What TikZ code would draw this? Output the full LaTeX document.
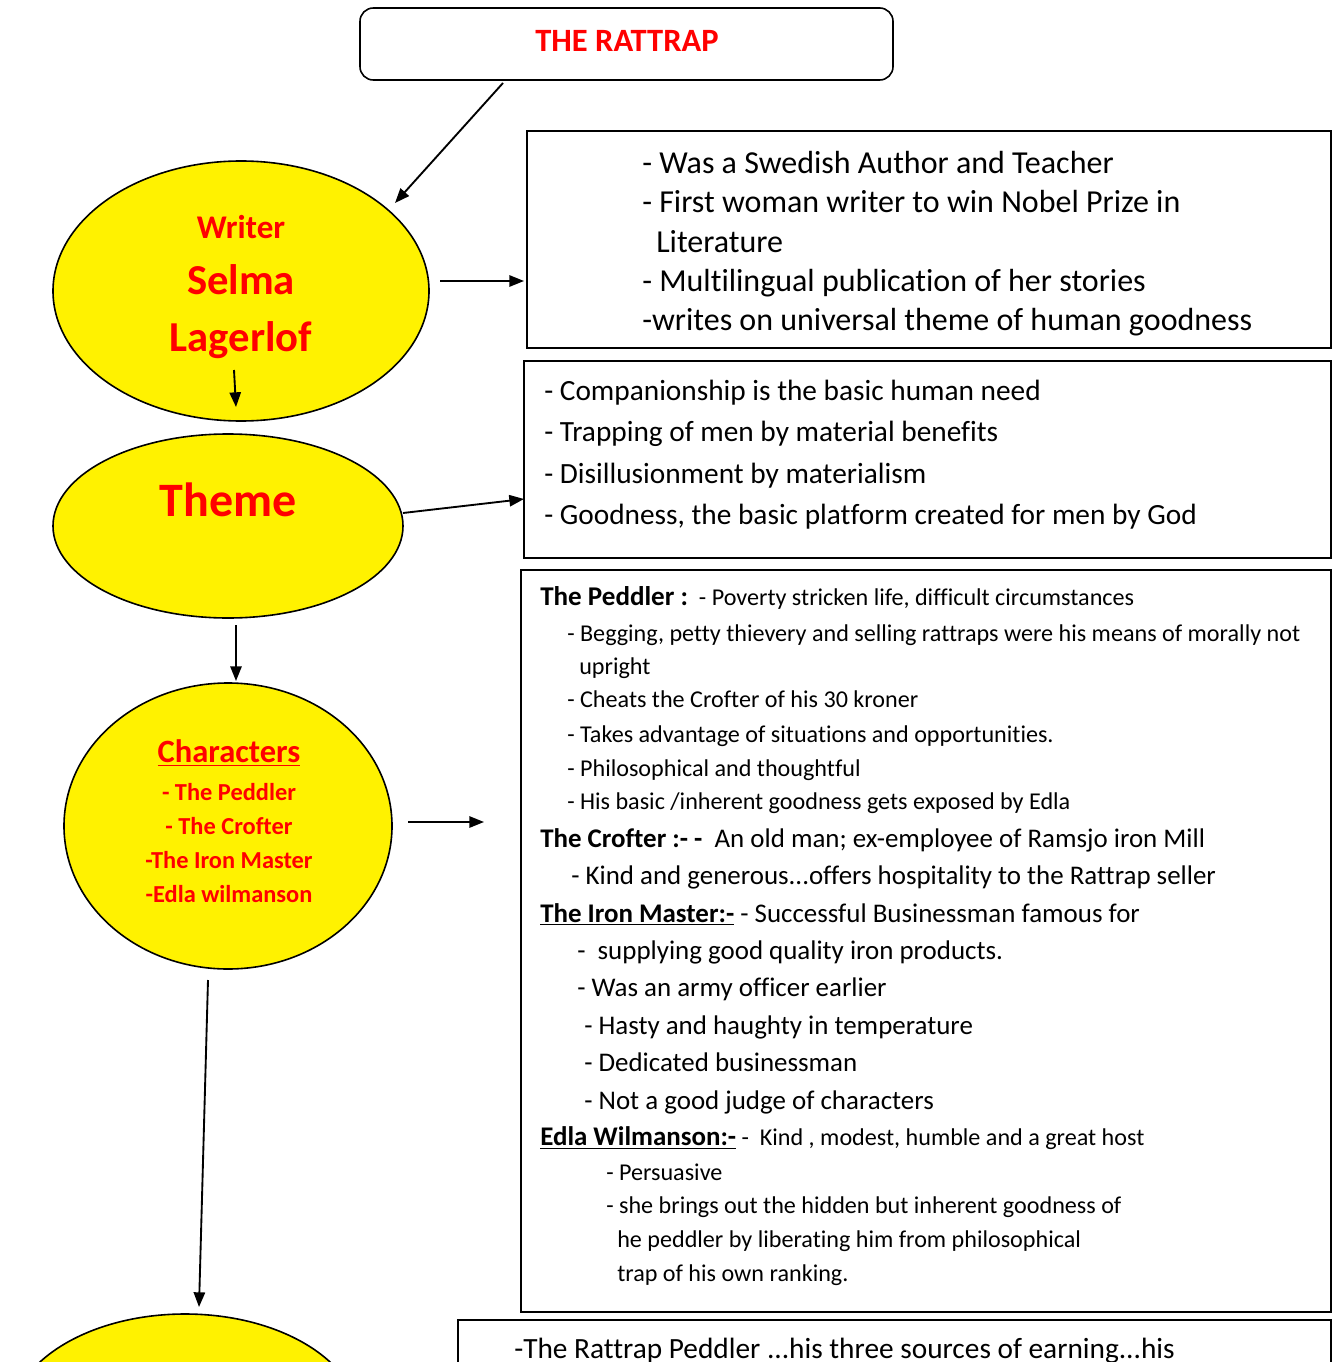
\documentclass[tikz,border=0pt]{standalone}
\usepackage{fontspec}
\setmainfont{Carlito}[Ligatures={NoCommon}]
\usepackage{tikz}
\usetikzlibrary{arrows.meta}

\tikzset{
  bubble/.style={draw, fill=yellow, line width=1.2pt},
  infobox/.style={draw, line width=1.5pt},
  arr/.style={-{Triangle[length=11pt,width=8.5pt]}, line width=1.4pt},
  redtxt/.style={text=red, font=\bfseries, inner sep=0.75pt},
  boxline/.style={anchor=mid west, inner sep=0.75pt, yshift=-3.5pt},
  topline/.style={boxline, yshift=-2.5pt, font=\fontsize{24}{28}\selectfont},
  bigline/.style={boxline, yshift=-2pt, font=\fontsize{22}{26}\selectfont},
  midline/.style={boxline, yshift=-1pt, font=\fontsize{20.2}{24}\selectfont},
  smallline/.style={boxline, font=\fontsize{18.1}{22}\selectfont}
}

\begin{document}
\begin{tikzpicture}[x=0.75pt,y=0.75pt,yscale=-1,xscale=1]
\useasboundingbox (0,0) rectangle (1335,1362);

% title
\draw [line width=1.2pt, rounded corners=10pt] (360,8) rectangle (893,80);
\node (title) [redtxt, font=\bfseries\fontsize{24.4}{28}\selectfont] at (627,41) {THE RATTRAP};

% bubbles
\draw [bubble] (241,291) ellipse [x radius=188, y radius=130];
\draw [bubble] (228,526) ellipse [x radius=175, y radius=92];
\draw [bubble] (228,826) ellipse [x radius=164, y radius=143];
\draw [bubble] (185,1423) ellipse [x radius=175, y radius=109];

\node (writer) [redtxt, font=\bfseries\fontsize{24.8}{28}\selectfont] at (241,227) {Writer};
\node (selma) [redtxt, font=\bfseries\fontsize{32}{36}\selectfont] at (241,280) {Selma};
\node (lagerlof) [redtxt, font=\bfseries\fontsize{32}{36}\selectfont] at (241,340) {Lagerlof};
\node (theme) [redtxt, font=\bfseries\fontsize{36}{42}\selectfont] at (228,500) {Theme};
\node (chars) [redtxt, font=\bfseries\fontsize{24.4}{28}\selectfont] at (229,753) {\underline{Characters}};
\node (cpeddler) [redtxt, font=\bfseries\fontsize{18.3}{22}\selectfont] at (229,792) {- The Peddler};
\node (ccrofter) [redtxt, font=\bfseries\fontsize{18.3}{22}\selectfont] at (229,826) {- The Crofter};
\node (cmaster) [redtxt, font=\bfseries\fontsize{18.3}{22}\selectfont] at (229,860) {-The Iron Master};
\node (cedla) [redtxt, font=\bfseries\fontsize{18.3}{22}\selectfont] at (229,894) {-Edla wilmanson};

% boxes
\draw [infobox] (527,131) rectangle (1331,348);
\draw [infobox] (524,361) rectangle (1331,558);
\draw [infobox] (521,570) rectangle (1331,1312);
\draw [infobox] (458,1320) rectangle (1331,1400);

% box 1: writer
\node (w1) [topline] at (641,162) {- Was a Swedish Author and Teacher};
\node (w2) [topline] at (641,201) {- First woman writer to win Nobel Prize in};
\node (w3) [topline] at (655,241) {Literature};
\node (w4) [topline] at (641,280) {- Multilingual publication of her stories};
\node (w5) [topline] at (641,319) {-writes on universal theme of human goodness};

% box 2: theme
\node (t1) [bigline] at (543,390) {- Companionship is the basic human need};
\node (t2) [bigline] at (543,431) {- Trapping of men by material benefits};
\node (t3) [bigline] at (543,473) {- Disillusionment by materialism};
\node (t4) [bigline] at (543,514) {- Goodness, the basic platform created for men by God};

% box 3: characters
\node (p0) [smallline] at (539,598) {{\bfseries\fontsize{20.3}{24}\selectfont The Peddler :}\ \ - Poverty stricken life, difficult circumstances};
\node (p1) [smallline] at (566,634) {- Begging, petty thievery and selling rattraps were his means of morally not};
\node (p2) [smallline] at (578,667) {upright};
\node (p3) [smallline] at (566,700) {- Cheats the Crofter of his 30 kroner};
\node (p4) [smallline] at (566,735) {- Takes advantage of situations and opportunities.};
\node (p5) [smallline] at (566,769) {- Philosophical and thoughtful};
\node (p6) [smallline] at (566,802) {- His basic /inherent goodness gets exposed by Edla};
\node (c0) [midline] at (539,838) {\textbf{The Crofter :- -}\ \ An old man; ex-employee of Ramsjo iron Mill};
\node (c1) [midline] at (570,875) {- Kind and generous...offers hospitality to the Rattrap seller};
\node (m0) [midline] at (539,913) {\textbf{\underline{The Iron Master:-}} - Successful Businessman famous for};
\node (m1) [midline] at (576,950) {-\ \ supplying good quality iron products.};
\node (m2) [midline] at (576,987) {- Was an army officer earlier};
\node (m3) [midline] at (583,1025) {- Hasty and haughty in temperature};
\node (m4) [midline] at (583,1062) {- Dedicated businessman};
\node (m5) [midline] at (583,1100) {- Not a good judge of characters};
\node (e0) [smallline] at (539,1138) {{\bfseries\fontsize{20.2}{24}\selectfont\underline{Edla Wilmanson:-}} -\ \ Kind , modest, humble and a great host};
\node (e1) [smallline] at (605,1173) {- Persuasive};
\node (e2) [smallline] at (605,1206) {- she brings out the hidden but inherent goodness of};
\node (e3) [smallline] at (616,1240) {he peddler by liberating him from philosophical};
\node (e4) [smallline] at (616,1274) {trap of his own ranking.};

% box 4: plot
\node (r1) [bigline] at (513,1348) {-The Rattrap Peddler ...his three sources of earning...his};

% connectors
\coordinate (a1s) at (503,83);  \coordinate (a1e) at (395,203);
\coordinate (a2s) at (440,281); \coordinate (a2e) at (524,281);
\coordinate (a3s) at (234,370); \coordinate (a3e) at (236,407);
\coordinate (a4s) at (403,513); \coordinate (a4e) at (524,499);
\coordinate (a5s) at (236,625); \coordinate (a5e) at (236,681);
\coordinate (a6s) at (408,822); \coordinate (a6e) at (484,822);
\coordinate (a7s) at (208,980); \coordinate (a7e) at (199,1307);
\draw [arr] (a1s) -- (a1e);
\draw [arr] (a2s) -- (a2e);
\draw [arr] (a3s) -- (a3e);
\draw [arr] (a4s) -- (a4e);
\draw [arr] (a5s) -- (a5e);
\draw [arr] (a6s) -- (a6e);
\draw [arr] (a7s) -- (a7e);
\end{tikzpicture}
\end{document}
